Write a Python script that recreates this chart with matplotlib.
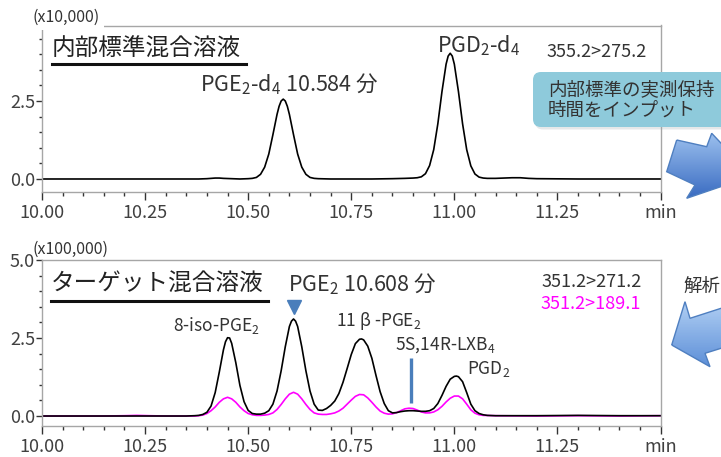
import numpy as np
import matplotlib
matplotlib.use("Agg")
import matplotlib.pyplot as plt
from matplotlib.patches import Polygon, FancyBboxPatch
from matplotlib.colors import LinearSegmentedColormap
from matplotlib.ticker import MultipleLocator

plt.rcParams['font.family'] = ['Noto Sans CJK JP', 'DejaVu Sans']
plt.rcParams['mathtext.fontset'] = 'custom'
plt.rcParams['mathtext.rm'] = 'Noto Sans CJK JP'
plt.rcParams['mathtext.it'] = 'Noto Sans CJK JP'
plt.rcParams['mathtext.bf'] = 'Noto Sans CJK JP:bold'
plt.rcParams['mathtext.default'] = 'regular'

# internal standard mix, 355.2>275.2 (x10,000)
is_time = [10.00, 10.10, 10.20, 10.30, 10.38, 10.40, 10.42, 10.43, 10.44, 10.46, 10.48,
           10.50, 10.51, 10.52, 10.53, 10.54, 10.55, 10.56, 10.57, 10.575, 10.58, 10.585,
           10.59, 10.595, 10.60, 10.61, 10.62, 10.63, 10.64, 10.65, 10.66, 10.67, 10.70,
           10.80, 10.85, 10.88, 10.90, 10.91, 10.92, 10.93, 10.94, 10.95, 10.96, 10.97,
           10.98, 10.985, 10.99, 10.995, 11.00, 11.01, 11.02, 11.03, 11.04, 11.05, 11.06,
           11.07, 11.08, 11.10, 11.12, 11.14, 11.16, 11.18, 11.20, 11.30, 11.40, 11.50]
is_signal = [0.0, 0.0, 0.0, 0.0, 0.0, 0.01, 0.03, 0.03, 0.02, 0.01, 0.0,
             0.01, 0.02, 0.05, 0.15, 0.38, 0.80, 1.42, 2.07, 2.33, 2.50, 2.56,
             2.50, 2.33, 2.07, 1.42, 0.80, 0.38, 0.15, 0.05, 0.02, 0.01, 0.0,
             0.0, 0.01, 0.02, 0.03, 0.04, 0.07, 0.17, 0.43, 0.94, 1.77, 2.80,
             3.68, 3.94, 4.03, 3.94, 3.68, 2.80, 1.77, 0.94, 0.42, 0.16, 0.06,
             0.03, 0.02, 0.02, 0.03, 0.04, 0.04, 0.02, 0.01, 0.0, 0.0, 0.0]

# target mix, 351.2>271.2 (x100,000)
tg_time = [10.00, 10.10, 10.20, 10.30, 10.35, 10.37, 10.38, 10.39, 10.40, 10.41, 10.42,
           10.43, 10.44, 10.445, 10.45, 10.455, 10.46, 10.47, 10.48, 10.49, 10.50, 10.51,
           10.52, 10.53, 10.54, 10.55, 10.56, 10.57, 10.58, 10.59, 10.60, 10.605, 10.61,
           10.615, 10.62, 10.63, 10.64, 10.65, 10.66, 10.67, 10.68, 10.69, 10.70, 10.71,
           10.72, 10.73, 10.74, 10.75, 10.76, 10.77, 10.775, 10.78, 10.79, 10.80, 10.81,
           10.82, 10.83, 10.84, 10.85, 10.86, 10.87, 10.88, 10.89, 10.90, 10.91, 10.92,
           10.93, 10.94, 10.95, 10.96, 10.97, 10.98, 10.99, 11.00, 11.005, 11.01, 11.02,
           11.03, 11.04, 11.05, 11.06, 11.07, 11.08, 11.10, 11.20, 11.30, 11.40, 11.50]
tg_271 = [0.0, 0.0, 0.0, 0.0, 0.0, 0.01, 0.02, 0.05, 0.12, 0.32, 0.75,
          1.41, 2.12, 2.38, 2.51, 2.50, 2.33, 1.71, 0.98, 0.46, 0.18, 0.08,
          0.06, 0.06, 0.09, 0.17, 0.38, 0.80, 1.45, 2.22, 2.87, 3.04, 3.11,
          3.04, 2.87, 2.22, 1.45, 0.80, 0.38, 0.19, 0.18, 0.24, 0.34, 0.48,
          0.72, 1.08, 1.52, 1.97, 2.32, 2.46, 2.47, 2.44, 2.24, 1.85, 1.30,
          0.78, 0.40, 0.17, 0.10, 0.11, 0.14, 0.16, 0.17, 0.17, 0.16, 0.15,
          0.15, 0.17, 0.24, 0.40, 0.66, 0.95, 1.18, 1.27, 1.28, 1.26, 1.10,
          0.75, 0.38, 0.17, 0.08, 0.04, 0.02, 0.01, 0.01, 0.02, 0.01, 0.01]

# target mix, 351.2>189.1
tg_time_189 = [10.00, 10.15, 10.20, 10.23, 10.26, 10.30, 10.37, 10.38, 10.39, 10.40, 10.41,
               10.42, 10.43, 10.44, 10.45, 10.46, 10.47, 10.48, 10.49, 10.50, 10.51, 10.52,
               10.53, 10.54, 10.55, 10.56, 10.57, 10.58, 10.59, 10.60, 10.61, 10.62, 10.63,
               10.64, 10.65, 10.66, 10.67, 10.68, 10.69, 10.70, 10.71, 10.72, 10.73, 10.74,
               10.75, 10.76, 10.77, 10.78, 10.79, 10.80, 10.81, 10.82, 10.83, 10.84, 10.85,
               10.86, 10.87, 10.88, 10.89, 10.90, 10.91, 10.92, 10.93, 10.94, 10.95, 10.96,
               10.97, 10.98, 10.99, 11.00, 11.01, 11.02, 11.03, 11.04, 11.05, 11.06, 11.07,
               11.10, 11.20, 11.30, 11.40, 11.50]
tg_189 = [0.0, 0.0, 0.01, 0.02, 0.01, 0.0, 0.0, 0.01, 0.03, 0.08, 0.17,
          0.29, 0.44, 0.55, 0.60, 0.55, 0.44, 0.29, 0.17, 0.08, 0.04, 0.02,
          0.02, 0.03, 0.05, 0.10, 0.21, 0.37, 0.55, 0.70, 0.76, 0.70, 0.55,
          0.37, 0.21, 0.10, 0.06, 0.05, 0.05, 0.07, 0.10, 0.16, 0.25, 0.38,
          0.51, 0.63, 0.69, 0.68, 0.58, 0.44, 0.29, 0.16, 0.09, 0.06, 0.07,
          0.11, 0.17, 0.23, 0.25, 0.24, 0.19, 0.13, 0.10, 0.10, 0.13, 0.20,
          0.31, 0.45, 0.57, 0.64, 0.64, 0.55, 0.38, 0.20, 0.09, 0.04, 0.02,
          0.01, 0.0, 0.01, 0.0, 0.01]

xtick_pos = [10.00, 10.25, 10.50, 10.75, 11.00, 11.25, 11.50]
xtick_labels = ['10.00', '10.25', '10.50', '10.75', '11.00', '11.25', 'min']
pge2_rt = 10.61
lxb4_rt = 10.894

W, H = 721, 457
TXT = '#333333'
BLUE = '#4a7ebb'

fig = plt.figure(figsize=(W / 100, H / 100), dpi=100)
ax1 = fig.add_axes([42 / W, 1 - 192 / H, 618.5 / W, 166.5 / H])
ax2 = fig.add_axes([42 / W, 1 - 425.5 / H, 618.5 / W, 166 / H])


def style(ax, yt, ylab):
    for s in ax.spines.values():
        s.set_color('#a6a6a6')
        s.set_linewidth(1.0)
    ax.set_xlim(10.0, 11.5)
    ax.set_xticks(xtick_pos)
    ax.set_xticklabels(xtick_labels)
    ax.xaxis.set_minor_locator(MultipleLocator(0.05))
    ax.set_yticks(yt)
    ax.set_yticklabels(ylab)
    ax.yaxis.set_minor_locator(MultipleLocator(0.5))
    ax.tick_params(which='both', direction='out', width=1, color='#333333',
                   labelsize=13, labelcolor='#404040')
    ax.tick_params(axis='x', which='major', length=6, pad=3)
    ax.tick_params(axis='x', which='minor', length=3)
    ax.tick_params(axis='y', which='major', length=4, pad=1)
    ax.tick_params(axis='y', which='minor', length=2.5)


style(ax1, [0.0, 2.5], ['0.0', '2.5'])
style(ax2, [0.0, 2.5, 5.0], ['0.0', '2.5', '5.0'])
ax1.set_ylim(-0.417, 4.92)
ax2.set_ylim(-0.304, 5.016)

ax1.plot(is_time, is_signal, color='black', lw=1.2)
ax2.plot(tg_time_189, tg_189, color='#ff00ff', lw=1.2)
ax2.plot(tg_time, tg_271, color='black', lw=1.2)

# peak labels
ax1.text(10.383, 2.80, r'PGE$_2$-d$_4$ 10.584 分', fontsize=15.5, color=TXT)
ax1.text(10.957, 4.05, r'PGD$_2$-d$_4$', fontsize=15.5, color=TXT)
ax1.text(11.467, 3.9, '355.2>275.2', fontsize=13, color=TXT, ha='right')

ax2.text(10.596, 4.0, r'PGE$_2$ 10.608 分', fontsize=15.5, color=TXT)
ax2.text(10.317, 2.72, r'8-iso-PGE$_2$', fontsize=12.5, color=TXT)
ax2.text(10.714, 2.88, r'11 β -PGE$_2$', fontsize=12.5, color=TXT)
ax2.text(10.856, 2.12, r'5S,14R-LXB$_4$', fontsize=12.5, color=TXT)
ax2.text(11.03, 1.35, r'PGD$_2$', fontsize=12.5, color=TXT)
ax2.text(11.455, 4.12, '351.2>271.2', fontsize=13, color=TXT, ha='right')
ax2.text(11.453, 3.42, '351.2>189.1', fontsize=13, color='#ff00ff', ha='right')

ax2.plot([pge2_rt], [3.48], marker='v', markersize=10, color=BLUE, clip_on=False)
ax2.plot([lxb4_rt, lxb4_rt], [0.42, 1.86], color=BLUE, lw=2.4, solid_capstyle='butt')

# overlay in pixel units for titles, callout and arrows
ov = fig.add_axes([0, 0, 1, 1])
ov.set_xlim(0, W)
ov.set_ylim(H, 0)
ov.axis('off')

ov.text(33, 17, '(x10,000)', fontsize=11.5, color=TXT, va='center',
        bbox=dict(facecolor='white', edgecolor='none', pad=3))
ov.text(33, 249, '(x100,000)', fontsize=11.5, color=TXT, va='center')

ov.text(52, 49, '内部標準混合溶液', fontsize=17, color='#222222', va='center')
ov.plot([52, 246], [64, 64], color='#111111', lw=2.2)
ov.text(51, 283, 'ターゲット混合溶液', fontsize=17, color='#222222', va='center')
ov.plot([51, 268], [300.5, 300.5], color='#111111', lw=2.2)

# callout
ov.add_patch(FancyBboxPatch((535, 74.5), 240, 55, boxstyle='round,pad=0,rounding_size=8',
                            facecolor='#9aa6ab', edgecolor='none', alpha=0.25))
ov.add_patch(FancyBboxPatch((533, 72), 240, 55, boxstyle='round,pad=0,rounding_size=8',
                            facecolor='#8ecadb', edgecolor='none'))
ov.text(548, 90, '内部標準の実測保持', fontsize=13.3, color=TXT, va='center')
ov.text(548, 111, '時間をインプット', fontsize=13.3, color=TXT, va='center')
ov.text(683, 287, '解析', fontsize=13.3, color=TXT, va='center')

# block arrows with gradient fill
arrow1 = [(676.7, 140), (706.7, 146.7), (711.7, 133.3), (752, 176),
          (686.7, 198.3), (695, 185), (666.7, 171.7)]
arrow2 = [(671.7, 345), (685, 301.7), (690, 318.3), (745, 300.6),
          (745, 340.8), (705, 353.3), (710, 366.7)]
for pts, c0, c1 in [(arrow1, '#9cc0ee', '#3a6cc2'), (arrow2, '#b3d1f4', '#5d8fd8')]:
    poly = Polygon(pts, closed=True, facecolor='none', edgecolor='#4f7fc0', lw=1.0)
    ov.add_patch(poly)
    xs = [p[0] for p in pts]
    ys = [p[1] for p in pts]
    cmap = LinearSegmentedColormap.from_list('g', [c0, c1])
    im = ov.imshow(np.linspace(0, 1, 100).reshape(-1, 1), cmap=cmap, aspect='auto',
                   extent=(min(xs), max(xs), max(ys), min(ys)), origin='upper')
    im.set_clip_path(poly)
ov.set_xlim(0, W)
ov.set_ylim(H, 0)

fig.savefig('out.png', dpi=100)
